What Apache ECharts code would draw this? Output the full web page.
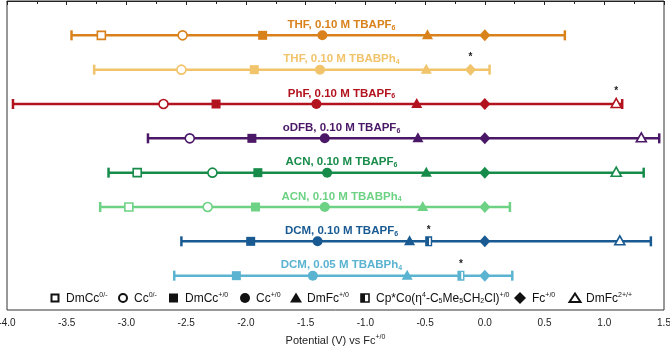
<!DOCTYPE html>
<html lang="en">
<head>
    <meta charset="UTF-8">
    <title>Electrochemical windows</title>
    <style>
        html, body { margin: 0; padding: 0; background: #fff; }
        #main { width: 670px; height: 346px; }
    </style>
</head>
<body>
<div id="main"></div>
<script src="https://cdn.jsdelivr.net/npm/echarts@6/dist/echarts.min.js"></script>
<script>
    // row labels (rich text, {s|..} = subscript)
    var rowLabels = [
        'THF, 0.10 M TBAPF{s|6}',
        'THF, 0.10 M TBABPh{s|4}',
        'PhF, 0.10 M TBAPF{s|6}',
        'oDFB, 0.10 M TBAPF{s|6}',
        'ACN, 0.10 M TBAPF{s|6}',
        'ACN, 0.10 M TBABPh{s|4}',
        'DCM, 0.10 M TBAPF{s|6}',
        'DCM, 0.05 M TBABPh{s|4}'
    ];
    var rowColors = ['#d9821c', '#f1c46b', '#b3121f', '#4a1867', '#178c4a', '#6dd284', '#195a92', '#5ab3d0'];

    // solvent window limits (V vs Fc+/0)
    var windowLow  = [-3.46, -3.27, -3.95, -2.82, -3.15, -3.22, -2.54, -2.60];
    var windowHigh = [0.67, 0.04, 1.15, 1.46, 1.33, 0.21, 1.39, 0.23];

    // redox couples, one value per row (null = not measured)
    var dmCc0  = [-3.21, null, null, null, -2.91, -2.98, null, null];
    var cc0    = [-2.53, -2.54, -2.69, -2.47, -2.28, -2.32, null, null];
    var dmCcP  = [-1.86, -1.93, -2.25, -1.95, -1.90, -1.92, -1.96, -2.08];
    var ccP    = [-1.36, -1.38, -1.41, -1.34, -1.32, -1.34, -1.40, -1.44];
    var dmFcP  = [-0.48, -0.49, -0.57, -0.56, -0.49, -0.52, -0.63, -0.65];
    var cpCo   = [null, null, null, null, null, null, -0.47, -0.20];
    var fcP    = [0, -0.12, 0, 0, 0, 0, 0, 0];
    var dmFc2  = [null, null, 1.10, 1.31, 1.10, null, 1.13, null];

    // points marked with an asterisk
    var starred = { fcP: [1], dmFc2: [2], cpCo: [6, 7] };

    var halfSquare = 'path://M0,0L10,0L10,14L0,14ZM5.5,2L5.5,12L8,12L8,2Z';
    var FONT = 'Liberation Sans, Arial, sans-serif';

    var myChart = echarts.init(document.getElementById('main'));

    function pts(key, arr, open) {
        var out = [];
        arr.forEach(function (v, i) {
            if (v === null) return;
            var item = { value: [v, i + 1] };
            item.itemStyle = open
                ? { color: '#fff', borderColor: rowColors[i], borderWidth: 1.6, opacity: 1 }
                : { color: rowColors[i], opacity: 1 };
            if (starred[key] && starred[key].indexOf(i) >= 0) {
                item.label = { show: true, formatter: '*', position: 'top', distance: 1, color: '#222', fontSize: 10, fontWeight: 'bold' };
            }
            out.push(item);
        });
        return out;
    }

    var series = [];
    // window lines with end caps
    rowLabels.forEach(function (lab, i) {
        series.push({
            type: 'line',
            data: [[windowLow[i], i + 1], [windowHigh[i], i + 1]],
            symbol: 'rect',
            symbolSize: [2.5, 10],
            lineStyle: { color: rowColors[i], width: 2.5 },
            itemStyle: { color: rowColors[i] },
            z: 2,
            silent: true
        });
    });
    // row labels
    series.push({
        type: 'scatter',
        symbolSize: 0,
        z: 5,
        itemStyle: { opacity: 1 },
        data: rowLabels.map(function (lab, i) {
            return {
                value: [-1.2, i + 1],
                label: {
                    show: true, position: 'top', distance: 4,
                    formatter: lab, opacity: 1,
                    color: rowColors[i], fontSize: 11.5, fontWeight: 'bold',
                    fontFamily: FONT, lineHeight: 13,
                    rich: {
                        s: { fontSize: 7, fontWeight: 'bold', color: rowColors[i], fontFamily: FONT, lineHeight: 13, verticalAlign: 'bottom' }
                    }
                }
            };
        })
    });

    series.push({ type: 'scatter', symbol: 'rect', symbolSize: 8, z: 4, data: pts('dmCc0', dmCc0, true) });
    series.push({ type: 'scatter', symbol: 'circle', symbolSize: 9, z: 4, data: pts('cc0', cc0, true) });
    series.push({ type: 'scatter', symbol: 'rect', symbolSize: 9, z: 4, data: pts('dmCcP', dmCcP, false) });
    series.push({ type: 'scatter', symbol: 'circle', symbolSize: 10, z: 4, data: pts('ccP', ccP, false) });
    series.push({ type: 'scatter', symbol: 'triangle', symbolSize: [11, 10], symbolOffset: [0, -1], z: 4, data: pts('dmFcP', dmFcP, false) });
    // Cp*Co: white background then half-filled outline
    series.push({ type: 'scatter', symbol: 'rect', symbolSize: [6, 9], z: 4, itemStyle: { color: '#fff', opacity: 1 },
        data: cpCo.map(function (v, i) { return v === null ? null : [v, i + 1]; }).filter(function (d) { return d; }) });
    series.push({ type: 'scatter', symbol: halfSquare, symbolSize: [7, 10], z: 4, data: pts('cpCo', cpCo, false) });
    series.push({ type: 'scatter', symbol: 'diamond', symbolSize: [11, 12], z: 4, data: pts('fcP', fcP, false) });
    series.push({ type: 'scatter', symbol: 'triangle', symbolSize: [10, 9], symbolOffset: [0, -1], z: 4, data: pts('dmFc2', dmFc2, true) });

    // legend drawn as graphic items
    var LY = 298;
    var legRich = {
        p: { fontSize: 12, fontFamily: FONT, lineHeight: 13, verticalAlign: 'bottom', fill: '#111' },
        sup: { fontSize: 7, fontFamily: FONT, lineHeight: 13, verticalAlign: 'top', fill: '#111' },
        sub: { fontSize: 7, fontFamily: FONT, lineHeight: 13, verticalAlign: 'bottom', fill: '#111' }
    };
    function legText(x, t) {
        return { type: 'text', x: x, y: LY, style: { text: t, rich: legRich, fill: '#111', verticalAlign: 'middle', fontSize: 12, fontFamily: FONT } };
    }
    var graphics = [
        { type: 'rect', shape: { x: 51.5, y: LY - 3.5, width: 7, height: 7 }, style: { fill: '#fff', stroke: '#111', lineWidth: 2 } },
        legText(66, '{p|DmCc}{sup|0/-}'),
        { type: 'circle', shape: { cx: 123, cy: LY, r: 4 }, style: { fill: '#fff', stroke: '#111', lineWidth: 2 } },
        legText(134, '{p|Cc}{sup|0/-}'),
        { type: 'rect', shape: { x: 169, y: LY - 4.5, width: 9, height: 9 }, style: { fill: '#111' } },
        legText(185, '{p|DmCc}{sup|+/0}'),
        { type: 'circle', shape: { cx: 245, cy: LY, r: 5 }, style: { fill: '#111' } },
        legText(256, '{p|Cc}{sup|+/0}'),
        { type: 'polygon', shape: { points: [[296, LY - 5.5], [302, LY + 4.5], [290, LY + 4.5]] }, style: { fill: '#111' } },
        legText(307, '{p|DmFc}{sup|+/0}'),
        { type: 'rect', shape: { x: 361, y: LY - 4, width: 8, height: 8 }, style: { fill: '#fff', stroke: '#111', lineWidth: 1.6 } },
        { type: 'rect', shape: { x: 361, y: LY - 4, width: 4, height: 8 }, style: { fill: '#111' } },
        legText(376, '{p|Cp*Co(η}{sup|4}{p|-C}{sub|5}{p|Me}{sub|5}{p|CH}{sub|2}{p|Cl)}{sup|+/0}'),
        { type: 'polygon', shape: { points: [[520, LY - 6], [526, LY], [520, LY + 6], [514, LY]] }, style: { fill: '#111' } },
        legText(532, '{p|Fc}{sup|+/0}'),
        { type: 'polygon', shape: { points: [[575, LY - 4.5], [580.5, LY + 4], [569.5, LY + 4]] }, style: { fill: '#fff', stroke: '#111', lineWidth: 2 } },
        legText(586, '{p|DmFc}{sup|2+/+}')
    ];

    var option = {
        animation: false,
        grid: {
            left: 7, right: 6, top: 1, bottom: 36,
            outerBoundsMode: 'none', containLabel: false,
            show: true, borderColor: '#333', borderWidth: 1, backgroundColor: 'transparent'
        },
        xAxis: {
            type: 'value', min: -4, max: 1.5, interval: 0.5,
            splitLine: { show: false },
            axisLine: { show: true, lineStyle: { color: '#222', width: 1.2 } },
            axisTick: { show: true, length: 4, lineStyle: { color: '#222' } },
            minorTick: { show: true, splitNumber: 2, length: 3, lineStyle: { color: '#222' } },
            axisLabel: {
                color: '#222', fontSize: 10, margin: 8,
                fontFamily: FONT,
                formatter: function (v) { return v.toFixed(1); }
            },
            name: '{p|Potential (V) vs Fc}{sup|+/0}',
            nameLocation: 'middle', nameGap: 24,
            nameTextStyle: {
                color: '#222', fontSize: 11,
                rich: {
                    p: { fontSize: 11, color: '#222', fontFamily: FONT, lineHeight: 12, verticalAlign: 'bottom' },
                    sup: { fontSize: 7, color: '#222', fontFamily: FONT, lineHeight: 12, verticalAlign: 'top' }
                }
            }
        },
        yAxis: {
            type: 'value', min: 0, max: 9, inverse: true,
            show: false
        },
        graphic: graphics,
        series: series
    };

    myChart.setOption(option);
</script>
</body>
</html>
